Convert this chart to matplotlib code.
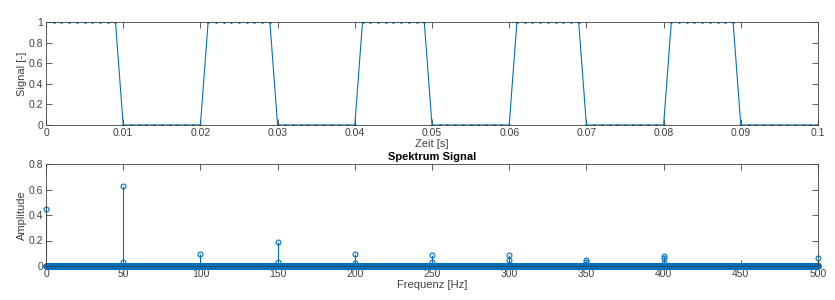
import numpy as np
import matplotlib
matplotlib.use("Agg")
import matplotlib.pyplot as plt

plt.rcParams['font.family'] = ['Liberation Sans', 'DejaVu Sans']

# time signal: sampled at 1 kHz, 9 samples high / 11 low per 20 ms period
t = np.arange(1, 101) / 1000.0
signal = ([1] * 9 + [0] * 11) * 5

# spectrum peaks (frequency, amplitude)
peak_freq = [0, 50, 50, 100, 150, 150, 200, 200, 250, 250, 300, 300, 350, 350,
             400, 400, 400, 500, 500]
peak_amp = [0.45, 0.63, 0.03, 0.095, 0.19, 0.03, 0.095, 0.02, 0.09, 0.03,
            0.085, 0.05, 0.045, 0.03, 0.078, 0.063, 0.02, 0.06, 0.01]
# dense near-zero bins forming the baseline band
base_freq = np.linspace(0, 500, 2001)
base_amp = np.zeros_like(base_freq)

blue = '#0072BD'
gray = '#404040'


def matlab_axes(ax):
    for s in ax.spines.values():
        s.set_color(gray)
        s.set_linewidth(0.6)
    ax.tick_params(direction='in', top=True, right=True, length=4,
                   width=0.6, color=gray, labelsize=7.5, labelcolor=gray,
                   pad=2)


fig = plt.figure(figsize=(8.35, 3.0), dpi=100)
ax1 = fig.add_axes([46 / 835, 1 - 125 / 300, 772 / 835, 103 / 300])
ax2 = fig.add_axes([46 / 835, 1 - 266 / 300, 772 / 835, 102 / 300])

ax1.plot(t, signal, color=blue, lw=0.8, marker='.', ms=2)
ax1.set_xlim(0, 0.1)
ax1.set_ylim(0, 1)
ax1.set_xticks(np.arange(0, 0.101, 0.01))
ax1.set_xticklabels(['0', '0.01', '0.02', '0.03', '0.04', '0.05', '0.06',
                     '0.07', '0.08', '0.09', '0.1'])
ax1.set_yticks([0, 0.2, 0.4, 0.6, 0.8, 1])
ax1.set_yticklabels(['0', '0.2', '0.4', '0.6', '0.8', '1'])
ax1.set_xlabel('Zeit [s]', fontsize=8, color=gray, labelpad=1)
ax1.set_ylabel('Signal [-]', fontsize=8, color=gray, labelpad=1)
matlab_axes(ax1)

ax2.plot(base_freq, base_amp, ls='none', marker='o', ms=3.5, mfc=blue,
         mec=blue, mew=1.0, clip_on=False)
ax2.vlines(peak_freq, 0, peak_amp, color=blue, lw=0.8)
ax2.plot(peak_freq, peak_amp, ls='none', marker='o', ms=3.5, mfc='none',
         mec=blue, mew=0.8, clip_on=False)
ax2.set_xlim(0, 500)
ax2.set_ylim(0, 0.8)
ax2.set_xticks(np.arange(0, 501, 50))
ax2.set_yticks([0, 0.2, 0.4, 0.6, 0.8])
ax2.set_yticklabels(['0', '0.2', '0.4', '0.6', '0.8'])
ax2.set_xlabel('Frequenz [Hz]', fontsize=8, color=gray, labelpad=1)
ax2.set_ylabel('Amplitude', fontsize=8, color=gray, labelpad=1)
ax2.set_title('Spektrum Signal', fontsize=8, fontweight='bold', pad=3)
matlab_axes(ax2)

fig.savefig('out.png', dpi=100)
